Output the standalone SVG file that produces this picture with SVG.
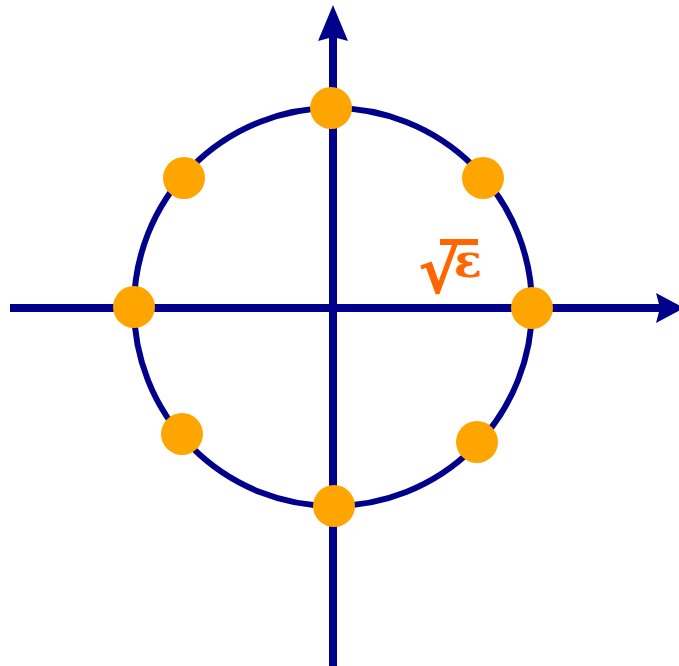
<svg xmlns="http://www.w3.org/2000/svg" width="679" height="666" viewBox="0 0 679 666">
<style>
.axis{stroke:#00008B;stroke-width:8;fill:none}
.circ{stroke:#00008B;stroke-width:6;fill:none}
.head{fill:#00008B}
.dot{fill:#FFA500}
.lbl{fill:#FF6600;font-family:"DejaVu Serif",serif}
</style>
<g id="connectors">
<line class="axis" x1="333" y1="666" x2="333" y2="36"/>
<path class="head" d="M333,5 L348,41 L333,37 L318,41 Z"/>
<line class="axis" x1="10" y1="308" x2="660" y2="308"/>
<path class="head" d="M684,308 L656,323 L660,308 L656,293 Z"/>
</g>
<g id="circle"><circle class="circ" cx="333" cy="307" r="199"/></g>
<g id="dots">
<circle class="dot" cx="331" cy="108" r="21"/>
<circle class="dot" cx="184" cy="178" r="21"/>
<circle class="dot" cx="483" cy="178" r="21"/>
<circle class="dot" cx="134" cy="307" r="21"/>
<circle class="dot" cx="532" cy="308" r="21"/>
<circle class="dot" cx="182" cy="434" r="21"/>
<circle class="dot" cx="477" cy="442" r="21"/>
<circle class="dot" cx="334" cy="506" r="21"/>
</g>
<g id="label">
<rect x="440" y="239" width="38" height="6" fill="#FF6600"/>
<text class="lbl"><tspan x="418" y="293" font-size="64" font-weight="bold" font-family="DejaVu Sans, sans-serif">√</tspan><tspan x="454" y="277" font-size="46" font-weight="bold">ε</tspan></text>
</g>
</svg>
